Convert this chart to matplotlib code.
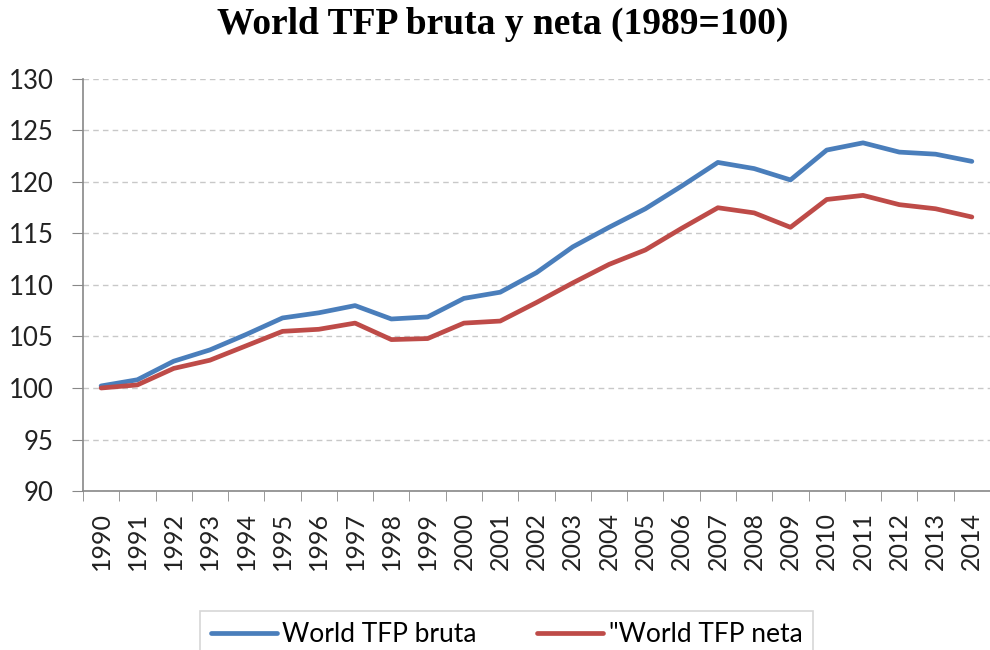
import numpy as np
import matplotlib
matplotlib.use('Agg')
import matplotlib.pyplot as plt

years = [str(y) for y in range(1990, 2015)]
tfp_bruta = [100.2, 100.8, 102.6, 103.7, 105.2, 106.8, 107.3, 108.0, 106.7, 106.9,
             108.7, 109.3, 111.2, 113.7, 115.6, 117.4, 119.6, 121.9, 121.3, 120.2,
             123.1, 123.8, 122.9, 122.7, 122.0]
tfp_neta = [100.0, 100.3, 101.9, 102.7, 104.1, 105.5, 105.7, 106.3, 104.7, 104.8,
            106.3, 106.5, 108.3, 110.2, 112.0, 113.4, 115.5, 117.5, 117.0, 115.6,
            118.3, 118.7, 117.8, 117.4, 116.6]

plt.rcParams['font.family'] = ['Lato', 'DejaVu Sans']

fig = plt.figure(figsize=(9.9, 6.5), dpi=100)
ax = fig.add_axes([0.0838, 0.2446, 0.9162, 0.6339])

x = np.arange(len(years))
ax.plot(x, tfp_bruta, color='#4A7EBB', lw=3.4, label='World TFP bruta', solid_capstyle='round')
ax.plot(x, tfp_neta, color='#BE4B48', lw=3.4, label='"World TFP neta', solid_capstyle='round')

ax.set_xlim(-0.5, len(years) - 0.5)
ax.set_ylim(90, 130)
ax.set_yticks(range(90, 131, 5))
ax.set_xticks(x)
ax.set_xticklabels(years, rotation=90)
ax.set_xticks(np.arange(-0.5, len(years), 1), minor=True)
ax.tick_params(axis='x', which='major', length=0, pad=15, labelsize=18, colors='#222222')
ax.tick_params(axis='x', which='minor', length=7, color='#888888')
ax.tick_params(axis='y', length=8, color='#888888', labelsize=18.5, pad=13, labelcolor='#222222')

ax.grid(axis='y', ls=(0, (4, 3)), color='#c8c8c8', lw=1)
ax.set_axisbelow(True)
for s in ['top', 'right']:
    ax.spines[s].set_visible(False)
for s in ['left', 'bottom']:
    ax.spines[s].set_color('#888888')
    ax.spines[s].set_linewidth(1.2)

fig.suptitle('World TFP bruta y neta (1989=100)', x=0.508, y=0.99,
             fontsize=27, fontweight='bold', family='Liberation Serif')

leg = fig.legend(loc='upper left', bbox_to_anchor=(0.189, 0.08), ncol=2,
                 frameon=True, fancybox=False, fontsize=19, handlelength=2.5,
                 handletextpad=0.2, columnspacing=2.3, borderpad=0.4)
leg.get_frame().set_edgecolor('#cccccc')
leg.get_frame().set_linewidth(1.2)

fig.savefig('out.png', dpi=100)
